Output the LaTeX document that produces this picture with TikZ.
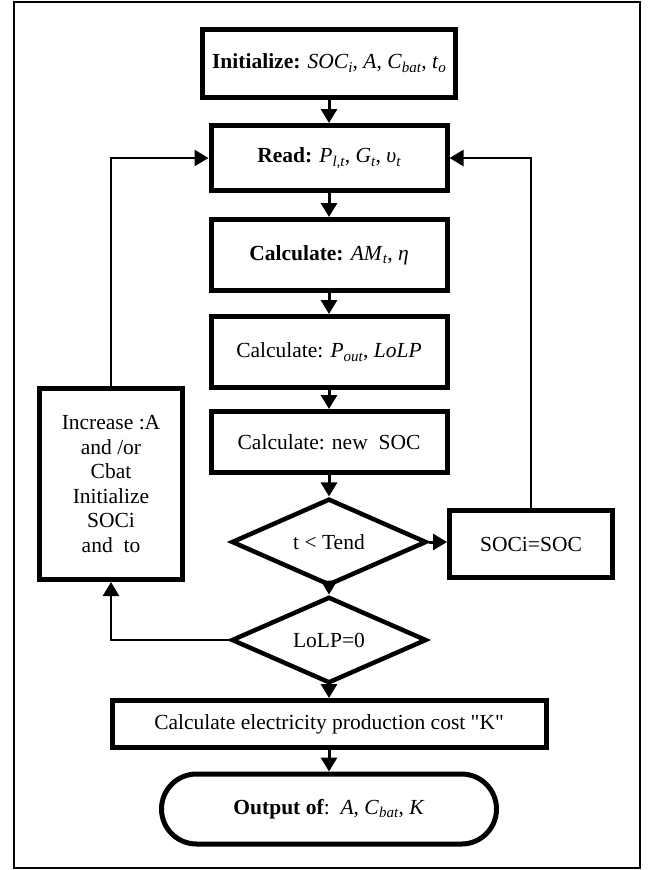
\documentclass[tikz,border=0pt]{standalone}
\usepackage{fontspec}
\setmainfont{Liberation Serif}[Ligatures=TeXOff]
\usetikzlibrary{arrows.meta,shapes.geometric}
\newcommand{\ix}[1]{\raisebox{-0.35ex}{\fontsize{15}{15}\selectfont\textit{#1}}}

\begin{document}
\begin{tikzpicture}[x=1pt,y=-1pt,
    font=\fontsize{21.5}{24.5}\selectfont,
    proc/.style={draw,line width=5pt,inner sep=0pt,align=center},
    decide/.style={draw,diamond,line width=4.5pt,inner sep=0pt,minimum width=195pt},
    flow/.style={line width=3pt,-{Triangle[length=14pt,width=16pt]}},
    loopback/.style={line width=2.5pt,-{Triangle[length=14pt,width=16pt]}}]
    \useasboundingbox (0,0) rectangle (648,870);
    \draw[line width=1.5pt] (14,2) rectangle (640,868);
    \node[proc,minimum width=253pt,minimum height=68pt] (init) at (329,63) {\textbf{Initialize:} \textit{SOC}\ix{i}, \textit{A}, \textit{C}\ix{bat}, \textit{t}\ix{o}};
    \node[proc,minimum width=236pt,minimum height=65pt] (read) at (329,158) {\textbf{Read:} \textit{P}\ix{l,t}, \textit{G}\ix{t}, \textit{υ}\ix{t}};
    \node[proc,minimum width=236pt,minimum height=71pt] (am) at (329,255) {\textbf{Calculate:} \textit{AM}\ix{t}, \textit{η}};
    \node[proc,minimum width=236pt,minimum height=71pt] (pout) at (329,352) {Calculate: \textit{P}\ix{out}, \textit{LoLP}};
    \node[proc,minimum width=236pt,minimum height=61pt] (newsoc) at (329,442) {Calculate: new\ \ SOC};
    \node[decide,minimum height=66pt] (tend) at (329,542) {t < Tend};
    \node[proc,minimum width=163pt,minimum height=67pt] (soci) at (531,544) {SOCi=SOC};
    \node[decide,minimum height=70pt] (lolp) at (329,640) {LoLP=0};
    \node[proc,minimum width=143pt,minimum height=191pt] (inc) at (111,484) {Increase :A\\and /or\\Cbat\\Initialize\\SOCi\\and\ \ to};
    \node[proc,minimum width=434pt,minimum height=47pt] (kbox) at (329,724) {Calculate electricity production cost "K"};
    \node[proc,rounded corners=35pt,minimum width=335pt,minimum height=70pt] (out) at (329,809) {\textbf{Output of}:\ \ \textit{A}, \textit{C}\ix{bat}, \textit{K}};
    \draw[flow] (init) -- (read);
    \draw[flow] (read) -- (am);
    \draw[flow] (am) -- (pout);
    \draw[flow] (pout) -- (newsoc);
    \draw[flow] (newsoc) -- (tend);
    \draw[flow] (tend) -- (lolp);
    \draw[flow] (lolp) -- (kbox);
    \draw[flow] (kbox) -- (out);
    \draw[flow] (tend.east) -- (soci.west |- tend.east);
    \draw[loopback] (soci.north) |- (read.east);
    \draw[loopback] (lolp.west) -| (inc.south);
    \draw[loopback] (inc.north) |- (read.west);
\end{tikzpicture}
\end{document}
